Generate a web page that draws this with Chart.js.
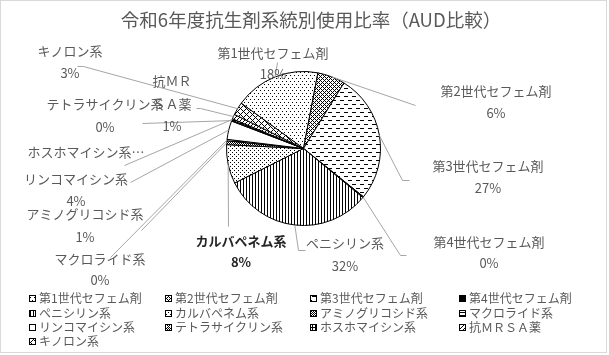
<!DOCTYPE html>
<html><head><meta charset="utf-8">
<script src="https://cdn.jsdelivr.net/npm/chart.js@4/dist/chart.umd.min.js"></script>
<style>html,body{margin:0;padding:0;background:#fff}canvas{display:block}</style>
</head><body>
<canvas id="c" width="609" height="355"></canvas>
<script>
// ---- data ----
const chartTitle = '令和6年度抗生剤系統別使用比率（AUD比較）';
const categories = ['第1世代セフェム剤','第2世代セフェム剤','第3世代セフェム剤','第4世代セフェム剤','ペニシリン系','カルバペネム系','アミノグリコシド系','マクロライド系','リンコマイシン系','テトラサイクリン系','ホスホマイシン系','抗ＭＲＳＡ薬','キノロン系'];
const shares = [18.0, 5.8, 27.0, 0.2, 31.6, 8.2, 0.8, 0.3, 3.9, 0.2, 0.3, 1.0, 2.7];

// ---- patterns (style) ----
function pat(w, h, fn) {
  const c = document.createElement('canvas'); c.width = w; c.height = h;
  const x = c.getContext('2d'); x.fillStyle = '#fff'; x.fillRect(0,0,w,h); x.fillStyle = '#000';
  for (let i=0;i<w;i++) for (let j=0;j<h;j++) if (fn(i,j)) x.fillRect(i,j,1,1);
  return x.createPattern(c, 'repeat');
}
const fills = [
  pat(4,6,(x,y)=>(x===0&&y===0)||(x===2&&y===3)),
  pat(4,4,(x,y)=>(x+y)%4===0||((x-y+4)%4===0)||(x+y)%2===0&&x%2===1),
  pat(8,8,(x,y)=>(y===0&&x<4)||(y===4&&x>=4)),
  pat(1,1,()=>true),
  pat(3,3,(x,y)=>x===0),
  pat(4,4,(x,y)=>(x===0&&y===0)||(x===2&&y===2)),
  pat(2,2,(x,y)=>(x+y)%2===0),
  pat(3,3,(x,y)=>y===0),
  pat(1,1,()=>false),
  pat(4,4,(x,y)=>(x+y)%2===0&&!(x===2&&y===2)),
  pat(3,3,(x,y)=>x===0||y===0),
  pat(4,4,(x,y)=>(x+y)%4===0),
  pat(6,6,(x,y)=>(x+y)%6===0||((x-y+6)%6===0))
];

// ---- label layout (positions only) ----
const labelLayout = [
  {x:273, y:53, py:74, line:[[277,62]]},
  {x:496, y:91, py:113, line:[[415,105]]},
  {x:488, y:166, py:188, line:[[402,180],[409,180]]},
  {x:489, y:242, py:263, line:[[400,255],[406,255]]},
  {x:345, y:243, py:266, line:[[298,250],[305,250]]},
  {x:241, y:241, py:262, bold:true, line:[[228,226]]},
  {x:85, y:214, py:237, line:[[141,230]]},
  {x:100, y:259, py:280, line:[[110,257]]},
  {x:76, y:179, py:201, line:[[130,182]]},
  {x:105, y:104, py:127, line:[[142,123]]},
  {x:86, y:152, ellipsis:true, nopct:true, line:[[124,165]]},
  {x:172, y:81, y2:104, py:126, wrapAt:3, line:[[200,108],[196,108]]},
  {x:70, y:51, py:73, line:[[83,66],[77,66]]}
];
const legendCols = [29, 165, 310, 459];
const legendRows = [298,313,327,341];

const FONT = '"Noto Sans CJK JP","Noto Sans",sans-serif';

const deco = {
  id:'deco',
  beforeDraw(chart){
    const c = chart.ctx;
    c.save(); c.fillStyle='#fff'; c.fillRect(0,0,chart.width,chart.height);
    c.strokeStyle='#d9d9d9'; c.lineWidth=1; c.strokeRect(0.5,0.5,606,352);
    c.fillStyle='#595959'; c.font='18.5px '+FONT; c.textAlign='center'; c.textBaseline='middle';
    c.fillText(chartTitle, 311, 20);
    c.restore();
  },
  afterDatasetsDraw(chart){
    const c = chart.ctx;
    const meta = chart.getDatasetMeta(0);
    const total = shares.reduce((a,b)=>a+b,0);
    c.save();
    c.strokeStyle='#a6a6a6'; c.lineWidth=1;
    meta.data.forEach((el,i)=>{
      const p = el.getProps(['x','y','startAngle','endAngle','outerRadius'], true);
      const mid = (p.startAngle+p.endAngle)/2;
      const sx = p.x + Math.cos(mid)*p.outerRadius, sy = p.y + Math.sin(mid)*p.outerRadius;
      const L = labelLayout[i];
      c.beginPath(); c.moveTo(sx, sy);
      L.line.forEach(q=>c.lineTo(q[0]+0.5,q[1]+0.5));
      c.stroke();
    });
    c.textAlign='center'; c.textBaseline='middle';
    categories.forEach((name,i)=>{
      const L = labelLayout[i];
      c.fillStyle = L.bold ? '#262626' : '#595959';
      c.font = (L.bold?'bold ':'')+'13px '+FONT;
      if (L.wrapAt) {
        c.fillText(name.slice(0,L.wrapAt), L.x, L.y);
        c.fillText(name.slice(L.wrapAt), L.x, L.y2);
      } else {
        c.fillText(name + (L.ellipsis?'…':''), L.x, L.y);
      }
      if (!L.nopct) c.fillText(Math.round(shares[i]/total*100)+'%', L.x, L.py);
    });
    // legend
    c.font = '12px '+FONT; c.textAlign='left';
    categories.forEach((name,i)=>{
      const x = legendCols[i%4], y = legendRows[Math.floor(i/4)];
      c.fillStyle = fills[i]; c.fillRect(x, y-3, 7, 7);
      c.strokeStyle='#000'; c.strokeRect(x+0.5, y-2.5, 6, 6);
      c.fillStyle='#595959'; c.fillText(name, x+10, y);
    });
    c.restore();
  }
};

new Chart(document.getElementById('c'), {
  type:'pie',
  data:{ labels:categories, datasets:[{ data:shares, backgroundColor:fills, borderColor:'#000', borderWidth:1 }] },
  options:{
    responsive:false, animation:false, rotation:-54,
    layout:{ padding:{ top:71, bottom:129, left:0, right:2 } },
    plugins:{ legend:{display:false}, title:{display:false}, tooltip:{enabled:false} }
  },
  plugins:[deco]
});
</script>
</body></html>
